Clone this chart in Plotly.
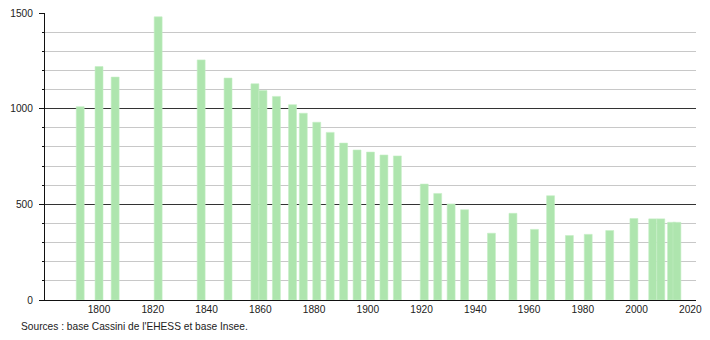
import plotly.graph_objects as go

years = [1793, 1800, 1806, 1822, 1838, 1848, 1858, 1861, 1866, 1872, 1876,
         1881, 1886, 1891, 1896, 1901, 1906, 1911, 1921, 1926, 1931, 1936,
         1946, 1954, 1962, 1968, 1975, 1982, 1990, 1999, 2006, 2009, 2013, 2015]
population = [1010, 1220, 1165, 1480, 1255, 1160, 1130, 1095, 1064, 1021, 976,
              929, 876, 820, 784, 773, 758, 753, 606, 557, 502, 472,
              349, 453, 369, 545, 337, 343, 363, 426, 424, 424, 406, 406]

x_ticks = [1800, 1820, 1840, 1860, 1880, 1900, 1920, 1940, 1960, 1980, 2000, 2020]
y_ticks = [0, 500, 1000, 1500]
source_text = "Sources : base Cassini de l'EHESS et base Insee."

fig = go.Figure(go.Bar(
    x=years, y=population, width=2.95,
    marker=dict(color="#aee5ae", line=dict(width=0.6, color="#c4eec4")),
    hoverinfo="x+y",
))

fig.update_layout(
    width=710, height=340,
    margin=dict(l=45, r=8, t=11, b=40),
    plot_bgcolor="white", paper_bgcolor="white",
    barmode="overlay",
    showlegend=False,
    font=dict(family="Liberation Sans, Arial, sans-serif", size=10.2, color="#222"),
    xaxis=dict(
        range=[1779.9, 2022.1],
        tickvals=x_ticks,
        showgrid=False, zeroline=False,
        showline=True, linecolor="#111", linewidth=1,
        ticks="", tickfont=dict(size=10.2),
    ),
    yaxis=dict(
        range=[0, 1500],
        tickvals=y_ticks,
        showgrid=True, gridcolor="#333", gridwidth=1,
        zeroline=False,
        showline=True, linecolor="#111", linewidth=1,
        ticks="outside", ticklen=5, tickcolor="#111",
        ticklabelstandoff=4,
        minor=dict(dtick=100, showgrid=True, gridcolor="#c8c8c8", gridwidth=1,
                   ticks="outside", ticklen=2, tickcolor="#111"),
        tickfont=dict(size=10.2),
    ),
    annotations=[dict(
        text=source_text, xref="paper", yref="paper",
        x=(19 - 45) / 657, y=-27 / 289, xanchor="left", yanchor="middle",
        showarrow=False, font=dict(size=10.2, color="#222"),
    )],
)

fig.write_html("out.html")
